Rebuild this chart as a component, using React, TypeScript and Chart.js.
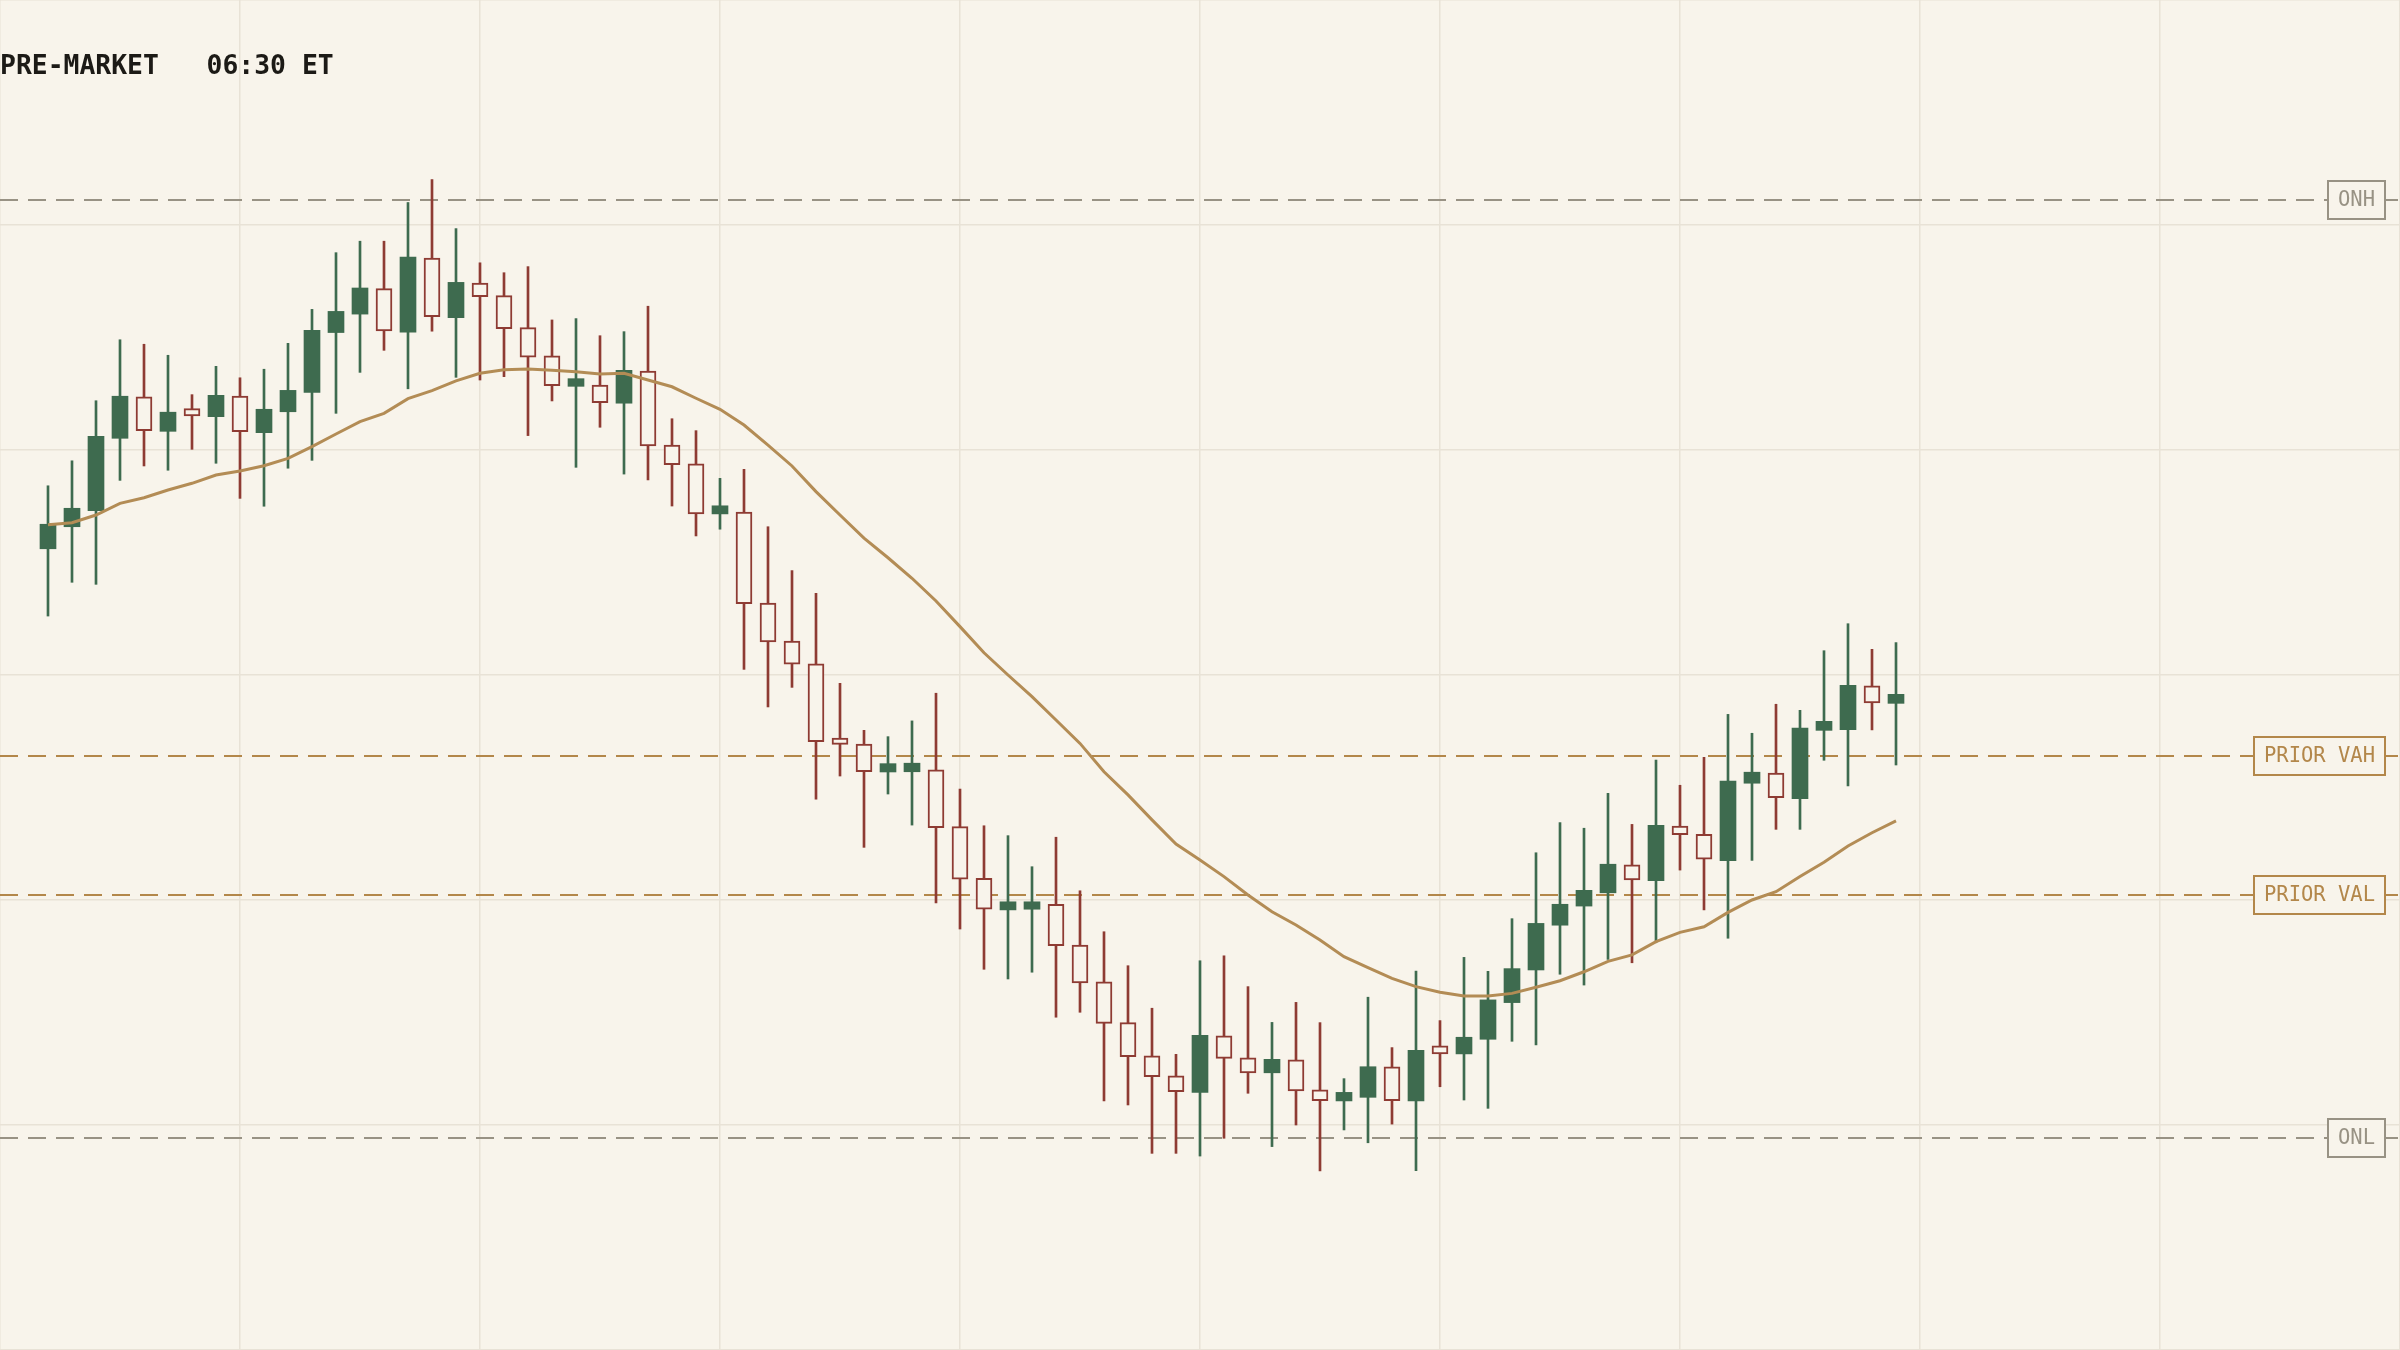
import { useEffect, useRef } from "react";
import Chart from "chart.js/auto";

const BG = "#f8f4eb";
const GRID = "#e8e2d6";
const UP = "#3e6b4f";
const DOWN = "#8e3b33";
const MA_COLOR = "#b38c55";
const GOLD = "#b3874a";
const GRAY = "#989284";
const MONO = '"DejaVu Sans Mono", "Liberation Mono", monospace';

const title = "PRE-MARKET   06:30 ET";

// one-minute candles, pre-market session
const opens = [
	5435.61, 5436.59, 5437.3, 5440.52, 5442.36, 5440.83, 5441.84, 5441.48, 5442.4, 5440.77,
	5441.7, 5442.56, 5445.22, 5446.04, 5447.17, 5445.24, 5448.53, 5445.88, 5447.42, 5446.86,
	5445.44, 5444.18, 5442.83, 5442.89, 5442.08, 5443.51, 5440.22, 5439.38, 5437.16, 5437.24,
	5433.2, 5431.51, 5430.5, 5427.2, 5426.93, 5425.69, 5425.7, 5425.78, 5423.26, 5420.96,
	5419.56, 5419.59, 5419.81, 5418.0, 5416.36, 5414.55, 5413.07, 5412.18, 5411.45, 5413.96,
	5412.99, 5412.32, 5412.9, 5411.56, 5411.07, 5411.23, 5412.58, 5411.07, 5413.52, 5413.16,
	5413.81, 5415.44, 5416.89, 5418.88, 5419.73, 5420.32, 5421.56, 5420.86, 5423.29, 5422.92,
	5421.75, 5425.19, 5425.64, 5424.5, 5427.54, 5427.57, 5429.52, 5428.74
];
const highs = [
	5438.41, 5439.52, 5442.19, 5444.9, 5444.7, 5444.21, 5442.46, 5443.72, 5443.21, 5443.59,
	5444.74, 5446.25, 5448.77, 5449.28, 5449.28, 5451.0, 5452.02, 5449.84, 5448.32, 5447.88,
	5448.15, 5445.78, 5445.84, 5445.08, 5445.26, 5446.39, 5441.39, 5440.86, 5438.74, 5439.14,
	5436.59, 5434.64, 5433.63, 5429.63, 5427.54, 5427.26, 5427.96, 5429.19, 5424.93, 5423.3,
	5422.86, 5421.48, 5422.79, 5420.41, 5418.59, 5417.08, 5415.19, 5413.14, 5417.3, 5417.52,
	5416.15, 5414.56, 5415.45, 5414.55, 5412.06, 5415.68, 5413.44, 5416.84, 5414.64, 5417.45,
	5416.83, 5419.17, 5422.1, 5423.44, 5423.19, 5424.74, 5423.36, 5426.22, 5425.1, 5426.34,
	5428.25, 5427.41, 5428.7, 5428.43, 5431.08, 5432.28, 5431.14, 5431.44
];
const lows = [
	5432.62, 5434.12, 5434.03, 5438.65, 5439.29, 5439.1, 5440.03, 5439.41, 5437.85, 5437.5,
	5439.19, 5439.54, 5441.63, 5443.45, 5444.43, 5442.72, 5445.28, 5443.23, 5443.11, 5443.26,
	5440.64, 5442.18, 5439.23, 5441.01, 5438.93, 5438.67, 5437.51, 5436.18, 5436.48, 5430.25,
	5428.58, 5429.45, 5424.48, 5425.51, 5422.34, 5424.71, 5423.33, 5419.87, 5418.71, 5416.92,
	5416.49, 5416.79, 5414.79, 5415.01, 5411.07, 5410.89, 5408.74, 5408.74, 5408.62, 5409.41,
	5411.41, 5409.04, 5410.0, 5407.96, 5409.78, 5409.21, 5410.04, 5407.97, 5411.7, 5411.11,
	5410.74, 5413.72, 5413.56, 5416.7, 5416.22, 5417.36, 5417.21, 5418.1, 5421.33, 5419.56,
	5418.3, 5421.76, 5423.14, 5423.14, 5426.21, 5425.07, 5427.56, 5426.0
];
const closes = [
	5436.7, 5437.41, 5440.61, 5442.39, 5440.86, 5441.68, 5441.52, 5442.43, 5440.81, 5441.81,
	5442.65, 5445.32, 5446.16, 5447.2, 5445.29, 5448.57, 5445.93, 5447.45, 5446.81, 5445.39,
	5444.13, 5442.86, 5443.17, 5442.1, 5443.54, 5440.18, 5439.35, 5437.16, 5437.52, 5433.17,
	5431.47, 5430.48, 5427.04, 5426.92, 5425.7, 5426.06, 5426.08, 5423.21, 5420.93, 5419.59,
	5419.92, 5419.92, 5417.97, 5416.32, 5414.52, 5413.04, 5412.15, 5411.48, 5413.99, 5412.96,
	5412.32, 5412.92, 5411.52, 5411.08, 5411.45, 5412.59, 5411.08, 5413.32, 5413.16, 5413.9,
	5415.56, 5416.95, 5418.96, 5419.81, 5420.43, 5421.59, 5420.89, 5423.32, 5422.9, 5421.81,
	5425.28, 5425.68, 5424.55, 5427.64, 5427.94, 5429.54, 5428.76, 5429.14
];
const movingAvg = [
	5436.68, 5436.77, 5437.11, 5437.63, 5437.88, 5438.22, 5438.52, 5438.89, 5439.07, 5439.3,
	5439.63, 5440.15, 5440.71, 5441.26, 5441.63, 5442.28, 5442.64, 5443.07, 5443.41, 5443.57,
	5443.6, 5443.54, 5443.48, 5443.38, 5443.41, 5443.11, 5442.81, 5442.3, 5441.81, 5441.11,
	5440.22, 5439.29, 5438.15, 5437.11, 5436.08, 5435.21, 5434.3, 5433.29, 5432.15, 5430.99,
	5430.0, 5429.04, 5428.0, 5426.96, 5425.7, 5424.67, 5423.56, 5422.49, 5421.78, 5421.04,
	5420.22, 5419.48, 5418.89, 5418.22, 5417.48, 5416.99, 5416.52, 5416.15, 5415.9, 5415.73,
	5415.73, 5415.85, 5416.12, 5416.41, 5416.81, 5417.27, 5417.56, 5418.15, 5418.56, 5418.81,
	5419.45, 5420.0, 5420.37, 5421.04, 5421.68, 5422.4, 5422.99, 5423.52
];

const levelNames = ["ONH", "PRIOR VAH", "PRIOR VAL", "ONL"];
const levelPrices = [5451.09, 5426.38, 5420.24, 5409.44];
const levelColors = [GRAY, GOLD, GOLD, GRAY];

const xTicks = [-2, 8, 18, 28, 38, 48, 58, 68, 78, 88, 98];

const levelsPlugin = {
	id: "levels",
	beforeDraw(chart: any) {
		const { ctx, width, height } = chart;
		ctx.save();
		ctx.fillStyle = BG;
		ctx.fillRect(0, 0, width, height);
		ctx.restore();
	},
	beforeDatasetsDraw(chart: any) {
		const { ctx, chartArea } = chart;
		const y = chart.scales.y;
		ctx.save();
		ctx.lineWidth = 2;
		ctx.setLineDash([18, 10]);
		levelPrices.forEach((p, i) => {
			const py = Math.round(y.getPixelForValue(p));
			ctx.strokeStyle = levelColors[i];
			ctx.beginPath();
			ctx.moveTo(chartArea.left, py);
			ctx.lineTo(chartArea.right, py);
			ctx.stroke();
		});
		ctx.restore();
	},
	afterDatasetsDraw(chart: any) {
		const { ctx, chartArea } = chart;
		const y = chart.scales.y;
		ctx.save();
		ctx.font = "20.5px " + MONO;
		ctx.textAlign = "center";
		ctx.textBaseline = "middle";
		levelNames.forEach((name, i) => {
			const py = Math.round(y.getPixelForValue(levelPrices[i]));
			const w = Math.round(ctx.measureText(name).width + 20);
			const h = 38;
			const right = chartArea.right - 15;
			ctx.fillStyle = BG;
			ctx.fillRect(right - w, py - h / 2, w, h);
			ctx.lineWidth = 2;
			ctx.strokeStyle = levelColors[i];
			ctx.strokeRect(right - w, py - h / 2, w, h);
			ctx.fillStyle = levelColors[i];
			ctx.fillText(name, right - w / 2, py + 1);
		});

		ctx.font = "bold 26.4px " + MONO;
		ctx.textAlign = "left";
		ctx.textBaseline = "alphabetic";
		ctx.fillStyle = "#1c1a16";
		ctx.fillText(title, 0, 74);
		ctx.restore();
	}
};

export default function App() {
	const canvasRef = useRef<HTMLCanvasElement>(null);

	useEffect(() => {
		if (!canvasRef.current) return;
		const idx = opens.map((_, i) => i);
		const isUp = idx.map((i) => closes[i] >= opens[i]);

		const chart = new Chart(canvasRef.current, {
			type: "bar",
			data: {
				datasets: [
					{
						type: "line",
						data: idx.map((i) => ({ x: i, y: movingAvg[i] })),
						borderColor: MA_COLOR,
						borderWidth: 3,
						pointRadius: 0,
						tension: 0,
						order: 0
					} as any,
					{
						data: idx.map((i) => ({ x: i, y: [opens[i], closes[i]] })),
						backgroundColor: idx.map((i) => (isUp[i] ? UP : BG)),
						borderColor: idx.map((i) => (isUp[i] ? UP : DOWN)),
						borderWidth: idx.map((i) => (isUp[i] ? 0 : 2)),
						borderSkipped: false,
						barThickness: 16,
						grouped: false,
						order: 1
					},
					{
						data: idx.map((i) => ({ x: i, y: [lows[i], highs[i]] })),
						backgroundColor: idx.map((i) => (isUp[i] ? UP : DOWN)),
						borderWidth: 0,
						barThickness: 2,
						grouped: false,
						order: 2
					}
				]
			},
			options: {
				animation: false,
				responsive: true,
				maintainAspectRatio: false,
				layout: { padding: 0 },
				plugins: {
					legend: { display: false },
					tooltip: { enabled: false }
				},
				scales: {
					x: {
						type: "linear",
						min: -2,
						max: 98,
						offset: false,
						afterBuildTicks: (scale: any) => {
							scale.ticks = xTicks.map((v) => ({ value: v }));
						},
						ticks: { display: false },
						grid: { color: GRID, lineWidth: 1.5, drawTicks: false, offset: false },
						border: { display: false }
					},
					y: {
						type: "linear",
						min: 5400,
						max: 5460,
						ticks: { display: false, stepSize: 10 },
						grid: { color: GRID, lineWidth: 1.5, drawTicks: false },
						border: { display: false }
					}
				}
			},
			plugins: [levelsPlugin]
		});

		return () => {
			chart.destroy();
		};
	}, []);

	return (
		<div
			style={{
				position: "fixed",
				left: 0,
				top: 0,
				width: "100vw",
				height: "100vh",
				background: BG
			}}
		>
			<canvas ref={canvasRef} />
		</div>
	);
}
